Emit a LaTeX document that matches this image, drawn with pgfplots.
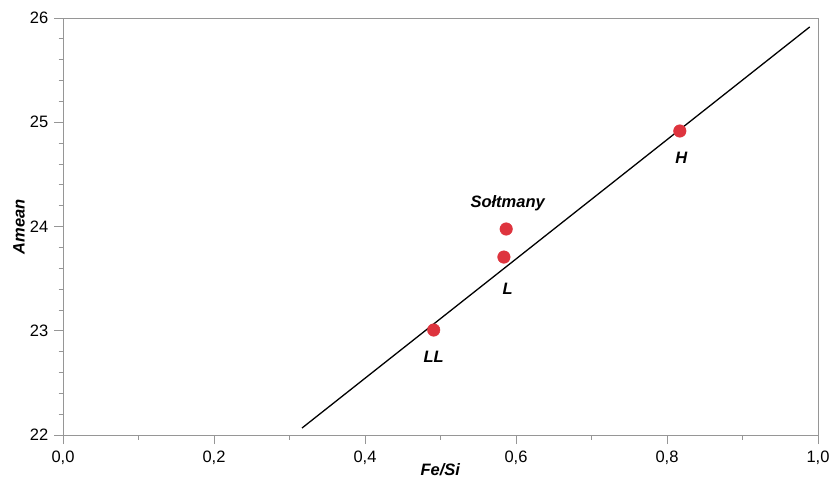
\documentclass[border=0pt]{standalone}
\usepackage{pgfplots}
\pgfplotsset{compat=1.18}
\usepackage{fontspec}
\setmainfont{Liberation Sans}
\definecolor{ptred}{RGB}{222,52,62}
\definecolor{axgray}{RGB}{150,150,150}
\begin{document}
\fontsize{16.5bp}{19bp}\selectfont
\begin{tikzpicture}
\begin{axis}[
  scale only axis,
  width=755bp, height=417bp,
  xmin=0, xmax=1, ymin=22, ymax=26,
  xtick={0,0.2,0.4,0.6,0.8,1.0},
  xticklabels={0{,}0,0{,}2,0{,}4,0{,}6,0{,}8,1{,}0},
  ytick={22,23,24,25,26},
  minor x tick num=1,
  minor y tick num=4,
  tick align=outside,
  tick pos=left,
  major tick length=9bp,
  minor tick length=4.5bp,
  axis line style={axgray, line width=0.8bp},
  every tick/.style={axgray, line width=0.8bp},
  /pgf/number format/assume math mode=true,
  ticklabel style={font=\fontsize{16.5bp}{19bp}\selectfont, text=black},
  xticklabel style={yshift=-1bp},
  xlabel={\textbf{\textit{Fe/Si}}},
  ylabel={\textbf{\textit{Amean}}},
  label style={font=\fontsize{16.5bp}{19bp}\selectfont},
  xlabel style={yshift=12bp},
  ylabel style={yshift=-6bp},
  clip=false,
]
\addplot[black, line width=1.3bp] coordinates {(0.3166,22.067) (0.989,25.914)};
\addplot[only marks, mark=*, mark size=6.3bp, ptred, mark options={draw=ptred, fill=ptred}] coordinates {
  (0.817,24.916)
  (0.587,23.976)
  (0.584,23.707)
  (0.491,23.007)
};
\node[font=\bfseries\itshape] at (axis cs:0.819,24.66) {H};
\node[font=\bfseries\itshape] at (axis cs:0.589,24.22) {Sołtmany};
\node[font=\bfseries\itshape] at (axis cs:0.589,23.40) {L};
\node[font=\bfseries\itshape] at (axis cs:0.491,22.75) {LL};
\end{axis}
\pgfresetboundingbox
\path[use as bounding box] ([shift={(-63bp,-43bp)}]current axis.south west) rectangle ([shift={(13bp,18bp)}]current axis.north east);
\end{tikzpicture}
\end{document}
